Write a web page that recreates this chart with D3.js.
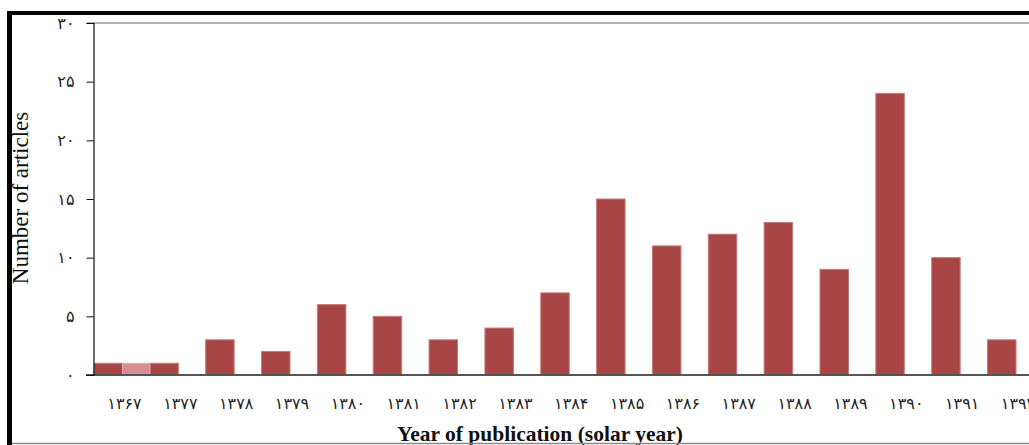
<!DOCTYPE html>
<html>
<head>
<meta charset="utf-8">
<script src="https://cdn.jsdelivr.net/npm/d3@7"></script>
<style>
  html, body { margin: 0; padding: 0; background: #ffffff; }
  svg { display: block; }
</style>
</head>
<body>
<svg id="chart" width="1029" height="445"></svg>
<script>
// ---- data ----
const years = ["1367","1377","1378","1379","1380","1381","1382","1383","1384","1385","1386","1387","1388","1389","1390","1391","1392"];
const articles = [1, 1, 3, 2, 6, 5, 3, 4, 7, 15, 11, 12, 13, 9, 24, 10, 3];
const yTicks = [0, 5, 10, 15, 20, 25, 30];
const bridgeYears = ["1367", "1377"];   // lighter band joining the first two bars
const bridgeValue = 1;
const xTitle = "Year of publication (solar year)";
const yTitle = "Number of articles";

// ---- helpers ----
const fa = s => String(s).replace(/[0-9]/g, d => "۰۱۲۳۴۵۶۷۸۹"[+d]);

const svg = d3.select("#chart");
const W = 1029, H = 445;
svg.append("rect").attr("width", W).attr("height", H).attr("fill", "#ffffff");

const x = d3.scaleBand().domain(years).range([94, 1016]).paddingInner(0.49).paddingOuter(0).align(0);
const y = d3.scaleLinear().domain([0, 30]).range([375, 23]);
const bw = x.bandwidth();

// top plot border line (value 30)
svg.append("line").attr("x1", 87).attr("x2", W).attr("y1", y(30)).attr("y2", y(30))
  .attr("stroke", "#9a9a9a").attr("stroke-width", 1.5);

// bars
svg.append("g").selectAll("rect").data(years).join("rect")
  .attr("x", d => x(d))
  .attr("y", (d, i) => y(articles[i]))
  .attr("width", bw)
  .attr("height", (d, i) => y(0) - y(articles[i]))
  .attr("fill", "#a84545")
  .attr("stroke", "#c27a7a")
  .attr("stroke-width", 1);

// bridge between first two bars
svg.append("rect")
  .attr("x", x(bridgeYears[0]) + bw)
  .attr("y", y(bridgeValue))
  .attr("width", x(bridgeYears[1]) - x(bridgeYears[0]) - bw)
  .attr("height", y(0) - y(bridgeValue))
  .attr("fill", "#d49090")
  .attr("stroke", "#e0b0b0")
  .attr("stroke-width", 1);

// x baseline
svg.append("line").attr("x1", 86).attr("x2", W).attr("y1", y(0)).attr("y2", y(0))
  .attr("stroke", "#555555").attr("stroke-width", 2);

// y axis
const yAxis = d3.axisLeft(y).tickValues(yTicks).tickSize(7).tickPadding(12).tickFormat(fa);
const gy = svg.append("g").attr("transform", "translate(93.5,0)").call(yAxis);
gy.select(".domain").attr("stroke", "#111").attr("stroke-width", 1.2);
gy.selectAll(".tick line").attr("stroke", "#111");
gy.selectAll(".tick text").attr("font-family", "DejaVu Sans").attr("font-size", 16).attr("fill", "#222");

// x tick labels
svg.append("g").selectAll("text").data(years).join("text")
  .attr("x", d => x(d) + bw + 2)
  .attr("y", 409)
  .attr("text-anchor", "middle")
  .attr("font-family", "DejaVu Sans")
  .attr("font-size", 16)
  .attr("letter-spacing", 0.6)
  .attr("fill", "#222")
  .text(d => fa(d));

// axis titles
svg.append("text")
  .attr("x", 540).attr("y", 441)
  .attr("text-anchor", "middle")
  .attr("font-family", "Liberation Serif")
  .attr("font-weight", "bold")
  .attr("font-size", 21.5)
  .attr("fill", "#111")
  .text(xTitle);

svg.append("text")
  .attr("transform", "translate(28,198) rotate(-90)")
  .attr("text-anchor", "middle")
  .attr("font-family", "Liberation Serif")
  .attr("font-size", 23)
  .attr("fill", "#111")
  .text(yTitle);

// frame
svg.append("rect").attr("x", 7).attr("y", 0).attr("width", W - 7).attr("height", 11).attr("fill", "#ffffff");
svg.append("rect").attr("x", 7).attr("y", 11).attr("width", W - 7).attr("height", 4).attr("fill", "#000");
svg.append("rect").attr("x", 7).attr("y", 11).attr("width", 5).attr("height", H - 11).attr("fill", "#000");
svg.append("line").attr("x1", 12).attr("x2", W).attr("y1", 443.5).attr("y2", 443.5)
  .attr("stroke", "#8a8a8a").attr("stroke-width", 1.5);
</script>
</body>
</html>
